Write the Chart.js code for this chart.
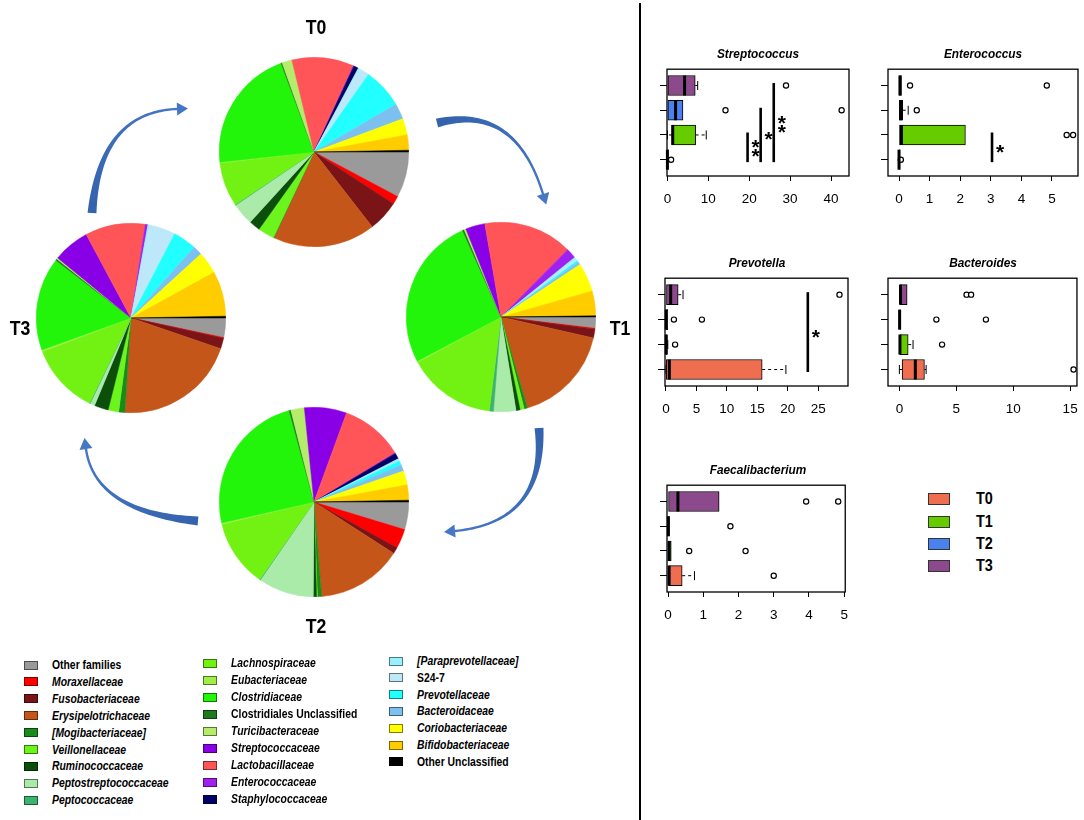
<!DOCTYPE html>
<html><head><meta charset="utf-8">
<script src="https://cdn.jsdelivr.net/npm/chart.js@4.4.1/dist/chart.umd.min.js"></script>
<style>
html,body{margin:0;padding:0;background:#fff;}
body{width:1084px;height:820px;overflow:hidden;position:relative;font-family:"Liberation Sans",Arial,sans-serif;color:#000;}
canvas{position:absolute;}
.t{position:absolute;white-space:nowrap;font-weight:bold;}
</style></head><body>
<script>
// ---------------- DATA ----------------
const timePoints = ['T0','T1','T2','T3'];
const groupColors = ['#F06E50','#66CC00','#4A80F0','#8C4A8C'];

const families = ['Other families','Moraxellaceae','Fusobacteriaceae','Erysipelotrichaceae','[Mogibacteriaceae]','Veillonellaceae','Ruminococcaceae','Peptostreptococcaceae','Peptococcaceae','Lachnospiraceae','Eubacteriaceae','Clostridiaceae','Clostridiales Unclassified','Turicibacteraceae','Streptococcaceae','Lactobacillaceae','Enterococcaceae','Staphylococcaceae','[Paraprevotellaceae]','S24-7','Prevotellaceae','Bacteroidaceae','Coriobacteriaceae','Bifidobacteriaceae','Other Unclassified'];
const familyItalic = [0,1,1,1,1,1,1,1,1, 1,1,1,0,1,1,1,1,1, 1,0,1,1,1,1,0];
const familyColors = ['#9A9A9A','#FF0000','#7A1416','#C5561A','#1A8A1A','#6CF51C','#0B4F0B','#AAEBAA','#3CB371','#72F212','#A2EE48','#22F50A','#1E7A1E','#B5EC6B','#8A00E6','#FF5558','#A020F0','#000066','#99F0FF','#BDE8FA','#22FFFF','#7CC0F0','#FFFF00','#FFCC00','#000000'];

// relative abundance (%) per family, legend order
const pieT0 = [7.8, 1.4, 5.3, 17.5, 0.1, 2.8, 1.9, 3.75, 0.15, 7.5, 0.15, 21.1, 0.2, 1.7, 0, 10.6, 0.1, 0.8, 0.3, 1.7, 6.9, 2.7, 2.8, 2.6, 0.3];
const pieT1 = [1.9, 0.15, 1.5, 16.9, 0.55, 0.7, 0.7, 3.8, 0.7, 15.1, 0.15, 26.0, 0.3, 0.3, 3.3, 15.1, 1.75, 0, 0.4, 0.3, 0.3, 0.5, 4.9, 4.2, 0.2];
const pieT2 = [4.7, 3.3, 1.1, 14.6, 0.7, 0.15, 0.55, 9.45, 0.15, 11.5, 0.2, 24.3, 0.3, 2.3, 7.2, 10.75, 0.1, 1.0, 0.3, 0.15, 0.7, 1.1, 2.4, 2.6, 0.3];
const pieT3 = [3.3, 0.15, 1.8, 20.8, 1.05, 1.8, 2.4, 0.8, 0.15, 12.0, 0.3, 15.9, 0.3, 0.2, 6.25, 10.25, 0.45, 0, 0.3, 4.45, 4.0, 1.6, 3.8, 7.7, 0.3];

// Box plots: groups in order T0,T1,T2,T3
const strepQ1 = [0, 1.1, 0, 0];
const strepMed = [0, 1.3, 2.0, 4.2];
const strepQ3 = [0.2, 6.9, 3.8, 6.8];
const strepLo = [0, 0, 0, 0];
const strepHi = [0.2, 9.5, 3.8, 7.4];
const strepOutG = [0, 2, 2, 3];
const strepOutV = [0.9, 14.2, 42.6, 29];
const strepTicks = [0, 10, 20, 30, 40];
const strepSigX = [19.6, 22.8, 26];
const strepSigTo = [2.1, 3.1, 4.1];
const strepSigStars = [2, 1, 2];

const enteroQ1 = [0, 0, 0, 0];
const enteroMed = [0, 0.08, 0.05, 0.03];
const enteroQ3 = [0.03, 2.17, 0.12, 0.08];
const enteroLo = [0, 0, 0, 0];
const enteroHi = [0.03, 2.17, 0.3, 0.08];
const enteroOutG = [0, 1, 1, 2, 3, 3];
const enteroOutV = [0.06, 5.48, 5.69, 0.58, 0.36, 4.83];
const enteroTicks = [0, 1, 2, 3, 4, 5];
const enteroSigX = [3.04];
const enteroSigTo = [2.1];
const enteroSigStars = [1];

const prevQ1 = [0.05, 0, 0, 0];
const prevMed = [0.55, 0.05, 0.05, 0.77];
const prevQ3 = [15.8, 0.15, 0.3, 2.0];
const prevLo = [0, 0, 0, 0];
const prevHi = [19.7, 0.3, 0.3, 2.8];
const prevOutG = [1, 2, 2, 3];
const prevOutV = [1.5, 1.3, 5.9, 28.5];
const prevTicks = [0, 5, 10, 15, 20, 25];
const prevSigX = [23.3];
const prevSigTo = [4.1];
const prevSigStars = [1];

const bactQ1 = [0.24, 0, 0, 0];
const bactMed = [1.4, 0.05, 0.02, 0.1];
const bactQ3 = [2.2, 0.77, 0.08, 0.68];
const bactLo = [0, 0, 0, 0];
const bactHi = [2.35, 1.2, 0.08, 0.68];
const bactOutG = [0, 1, 2, 2, 3, 3];
const bactOutV = [15.3, 3.75, 3.25, 7.6, 5.9, 6.3];
const bactTicks = [0, 5, 10, 15];

const faecQ1 = [0, 0, 0, 0];
const faecMed = [0.03, 0.03, 0.01, 0.28];
const faecQ3 = [0.4, 0.09, 0.03, 1.45];
const faecLo = [0, 0, 0, 0];
const faecHi = [0.75, 0.09, 0.03, 1.45];
const faecOutG = [0, 1, 1, 2, 3, 3];
const faecOutV = [3.0, 0.6, 2.2, 1.77, 3.92, 4.83];
const faecTicks = [0, 1, 2, 3, 4, 5];

// ---------------- HELPERS ----------------
Chart.defaults.font.family = '"Liberation Sans", Arial, sans-serif';
function addText(txt, x, y, size, opts) {
  const d = document.createElement('div');
  d.className = 't';
  d.textContent = txt;
  d.style.fontSize = size + 'px';
  d.style.lineHeight = '1';
  if (opts.italic) d.style.fontStyle = 'italic';
  if (opts.normal) d.style.fontWeight = 'normal';
  d.style.left = x + 'px';
  d.style.top = y + 'px';
  const sx = opts.sx || 1;
  d.style.transform = opts.center ? `translate(-50%,-50%) scaleX(${sx})` : `translate(0,-50%) scaleX(${sx})`;
  d.style.transformOrigin = opts.center ? '50% 50%' : '0 50%';
  document.body.appendChild(d);
  return d;
}
function addBox(x, y, w, h, bg, border) {
  const d = document.createElement('div');
  d.style.cssText = `position:absolute;left:${x}px;top:${y}px;width:${w}px;height:${h}px;background:${bg};border:1px solid ${border};box-sizing:border-box;`;
  document.body.appendChild(d);
}

// ---------------- ARROWS ----------------
const arrowCv = document.createElement('canvas');
arrowCv.width = 640; arrowCv.height = 640;
arrowCv.style.left = '0px'; arrowCv.style.top = '0px';
document.body.appendChild(arrowCv);
(function drawArrows() {
  const ctx = arrowCv.getContext('2d');
  function arrow(p0, c, p2) {
    const N = 48, left = [], right = [];
    for (let i = 0; i <= N; i++) {
      const t = i / N, u = 1 - t;
      const x = u*u*p0[0] + 2*u*t*c[0] + t*t*p2[0];
      const y = u*u*p0[1] + 2*u*t*c[1] + t*t*p2[1];
      const dx = 2*u*(c[0]-p0[0]) + 2*t*(p2[0]-c[0]);
      const dy = 2*u*(c[1]-p0[1]) + 2*t*(p2[1]-c[1]);
      const l = Math.hypot(dx, dy), nx = -dy / l, ny = dx / l;
      const w = (2.4 + 6.5 * Math.pow(u, 2.6)) / 2;
      left.push([x + nx*w, y + ny*w]); right.push([x - nx*w, y - ny*w]);
    }
    const dx = p2[0]-c[0], dy = p2[1]-c[1], l = Math.hypot(dx, dy);
    const ux = dx/l, uy = dy/l, nx = -uy, ny = ux;
    const hw = 6.5, hl = 11;
    ctx.beginPath();
    ctx.moveTo(left[0][0], left[0][1]);
    for (const p of left) ctx.lineTo(p[0], p[1]);
    ctx.lineTo(p2[0] + nx*hw, p2[1] + ny*hw);
    ctx.lineTo(p2[0] + ux*hl, p2[1] + uy*hl);
    ctx.lineTo(p2[0] - nx*hw, p2[1] - ny*hw);
    for (let i = right.length - 1; i >= 0; i--) ctx.lineTo(right[i][0], right[i][1]);
    ctx.closePath();
    const g = ctx.createLinearGradient(p0[0], p0[1], p2[0], p2[1]);
    g.addColorStop(0, '#3462AC'); g.addColorStop(1, '#4677C4');
    ctx.fillStyle = g;
    ctx.fill();
  }
  arrow([437,123], [515,103], [543,194]);   // T0 -> T1
  arrow([539,428], [546,522], [455,531]);   // T1 -> T2
  arrow([198,521], [95,512], [86,449]);     // T2 -> T3
  arrow([92,213], [100,112], [177,109]);    // T3 -> T0
})();

// ---------------- PIES ----------------
function makePie(data, cx, cy) {
  const cv = document.createElement('canvas');
  const S = 190;
  cv.width = S; cv.height = S;
  cv.style.left = (cx - S/2) + 'px'; cv.style.top = (cy - S/2) + 'px';
  document.body.appendChild(cv);
  new Chart(cv, {
    type: 'pie',
    data: { labels: families, datasets: [{ data: data, backgroundColor: familyColors, borderColor: familyColors, borderWidth: 0.5, hoverOffset: 0, offset: 0 }] },
    options: { responsive: false, animation: false, events: [], rotation: 90,
      layout: { padding: 0 },
      plugins: { legend: { display: false }, tooltip: { enabled: false } } }
  });
}
makePie(pieT0, 314, 152);
makePie(pieT1, 501, 317);
makePie(pieT2, 314, 502);
makePie(pieT3, 131, 318);
addText('T0', 316, 26, 21, {center: true, sx: 0.84});
addText('T1', 620, 327, 21, {center: true, sx: 0.84});
addText('T2', 316, 625, 21, {center: true, sx: 0.84});
addText('T3', 20, 327, 21, {center: true, sx: 0.84});

// ---------------- FAMILY LEGEND ----------------
const legendCols = [
  {from: 0, to: 9, sx: 24, tx: 52, y0: 665, dy: 16.9},
  {from: 9, to: 18, sx: 203, tx: 231, y0: 663, dy: 17.0},
  {from: 18, to: 25, sx: 389, tx: 417, y0: 661, dy: 16.8}
];
legendCols.forEach(c => {
  for (let i = c.from; i < c.to; i++) {
    const y = c.y0 + (i - c.from) * c.dy;
    addBox(c.sx, y - 4.5, 14, 9, familyColors[i], 'rgba(0,0,0,0.5)');
    addText(families[i], c.tx, y, 12.5, {italic: !!familyItalic[i], sx: 0.83});
  }
});

// separator
const sep = document.createElement('div');
sep.style.cssText = 'position:absolute;left:639px;top:3px;width:2px;height:817px;background:#000;';
document.body.appendChild(sep);

// ---------------- BOX PLOTS ----------------
const boxExtras = {};
const boxPlugin = {
  id: 'boxExtras',
  afterDatasetsDraw(chart) {
    const e = boxExtras[chart.canvas.id];
    if (!e) return;
    const ctx = chart.ctx, xs = chart.scales.x, ys = chart.scales.y;
    ctx.save();
    ctx.strokeStyle = '#000';
    for (let i = 0; i < 4; i++) {
      const yc = ys.getPixelForValue(i + 1);
      // whiskers
      ctx.lineWidth = 1;
      const segs = [[e.q3[i], e.hi[i]], [e.q1[i], e.lo[i]]];
      segs.forEach(([a, b]) => {
        if (Math.abs(b - a) < 1e-9) return;
        const xa = xs.getPixelForValue(a), xb = xs.getPixelForValue(b);
        ctx.setLineDash([3, 3]);
        ctx.beginPath(); ctx.moveTo(xa, yc); ctx.lineTo(xb, yc); ctx.stroke();
        ctx.setLineDash([]);
        ctx.beginPath(); ctx.moveTo(xb, yc - 4.5); ctx.lineTo(xb, yc + 4.5); ctx.stroke();
      });
      // median
      const xm = xs.getPixelForValue(e.med[i]);
      ctx.lineWidth = 3;
      ctx.beginPath(); ctx.moveTo(xm, yc - 10); ctx.lineTo(xm, yc + 10); ctx.stroke();
    }
    // significance
    if (e.sigX) {
      ctx.lineWidth = 2.6;
      ctx.fillStyle = '#000';
      ctx.font = 'bold 21px "Liberation Sans", Arial, sans-serif';
      ctx.textAlign = 'center';
      ctx.textBaseline = 'alphabetic';
      e.sigX.forEach((sx, k) => {
        const x = xs.getPixelForValue(sx);
        const y1 = ys.getPixelForValue(0.9), y2 = ys.getPixelForValue(e.sigTo[k]);
        ctx.beginPath(); ctx.moveTo(x, y1); ctx.lineTo(x, y2); ctx.stroke();
        const ym = (y1 + y2) / 2;
        const n = e.sigStars[k];
        for (let s = 0; s < n; s++) {
          const yy = ym + (s - (n - 1) / 2) * 9;
          ctx.fillText('*', x + 8, yy + 11.5);
        }
      });
    }
    ctx.restore();
  },
  afterDraw(chart) {
    const a = chart.chartArea, ctx = chart.ctx;
    ctx.save();
    ctx.strokeStyle = '#000'; ctx.lineWidth = 1.3;
    ctx.strokeRect(a.left, a.top, a.right - a.left, a.bottom - a.top);
    ctx.restore();
  }
};

function makeBox(id, title, frame, xr, ticks, q1, med, q3, lo, hi, outG, outV, sigX, sigTo, sigStars) {
  const [L, T, R, B] = frame;
  const cv = document.createElement('canvas');
  cv.id = id;
  const padR = 10, axW = 30, axH = 38, padT = 3;
  const W = R - L + axW + padR, H = B - T + padT + axH;
  cv.width = W; cv.height = H;
  cv.style.left = (L - axW) + 'px'; cv.style.top = (T - padT) + 'px';
  document.body.appendChild(cv);
  boxExtras[id] = {q1, med, q3, lo, hi, sigX, sigTo, sigStars};
  new Chart(cv, {
    type: 'bar',
    data: { datasets: [
      { type: 'bar', indexAxis: 'y', order: 2,
        data: timePoints.map((t, i) => ({ y: i + 1, x: [q1[i], q3[i]] })),
        backgroundColor: groupColors, borderColor: '#000', borderWidth: 1, borderSkipped: false, barThickness: 20 },
      { type: 'scatter', order: 1,
        data: outV.map((v, k) => ({ x: v, y: outG[k] + 1 })),
        pointRadius: 2.6, pointBorderWidth: 1.2, pointBorderColor: '#000', pointBackgroundColor: '#fff', showLine: false }
    ] },
    options: {
      indexAxis: 'y',
      responsive: false, animation: false, events: [],
      layout: { padding: { top: padT, right: padR, left: 0, bottom: 0 } },
      plugins: { legend: { display: false }, tooltip: { enabled: false } },
      scales: {
        x: { type: 'linear', min: xr[0], max: xr[1], bounds: 'data', offset: false, grace: 0,
          afterBuildTicks: s => { s.ticks = ticks.map(v => ({ value: v })); },
          afterFit: s => { s.height = axH; },
          grid: { offset: false, drawOnChartArea: false, drawTicks: true, tickLength: 5, color: '#000', lineWidth: 1 },
          border: { display: false },
          ticks: { color: '#000', padding: 10, font: { size: 13.5 }, maxRotation: 0, autoSkip: false } },
        y: { type: 'linear', min: 0.34, max: 4.66, bounds: 'data', offset: false, grace: 0,
          afterBuildTicks: s => { s.ticks = [1, 2, 3, 4].map(v => ({ value: v })); },
          afterFit: s => { s.width = axW; },
          grid: { offset: false, drawOnChartArea: false, drawTicks: true, tickLength: 7, color: '#000', lineWidth: 1 },
          border: { display: false },
          ticks: { display: false } }
      }
    },
    plugins: [boxPlugin]
  });
  addText(title, (L + R) / 2, T - 14, 13, {center: true, italic: true, sx: 0.91});
}

makeBox('strep', 'Streptococcus', [667, 67, 849, 176], [-0.1, 44.4], strepTicks, strepQ1, strepMed, strepQ3, strepLo, strepHi, strepOutG, strepOutV, strepSigX, strepSigTo, strepSigStars);
makeBox('entero', 'Enterococcus', [888, 67, 1078, 176], [-0.36, 5.85], enteroTicks, enteroQ1, enteroMed, enteroQ3, enteroLo, enteroHi, enteroOutG, enteroOutV, enteroSigX, enteroSigTo, enteroSigStars);
makeBox('prev', 'Prevotella', [665, 276, 848, 386], [-0.16, 29.9], prevTicks, prevQ1, prevMed, prevQ3, prevLo, prevHi, prevOutG, prevOutV, prevSigX, prevSigTo, prevSigStars);
makeBox('bact', 'Bacteroides', [888, 276, 1078, 386], [-1.0, 15.6], bactTicks, bactQ1, bactMed, bactQ3, bactLo, bactHi, bactOutG, bactOutV, null, null, null);
makeBox('faec', 'Faecalibacterium', [667, 483, 848, 592], [-0.03, 5.03], faecTicks, faecQ1, faecMed, faecQ3, faecLo, faecHi, faecOutG, faecOutV, null, null, null);

// time-point legend
timePoints.forEach((t, i) => {
  const y = [499, 522, 544, 566][i];
  addBox(928, y - 6, 22, 12, groupColors[i], '#333');
  addText(t, 976, y, 16, {sx: 0.9});
});
</script>
</body></html>
